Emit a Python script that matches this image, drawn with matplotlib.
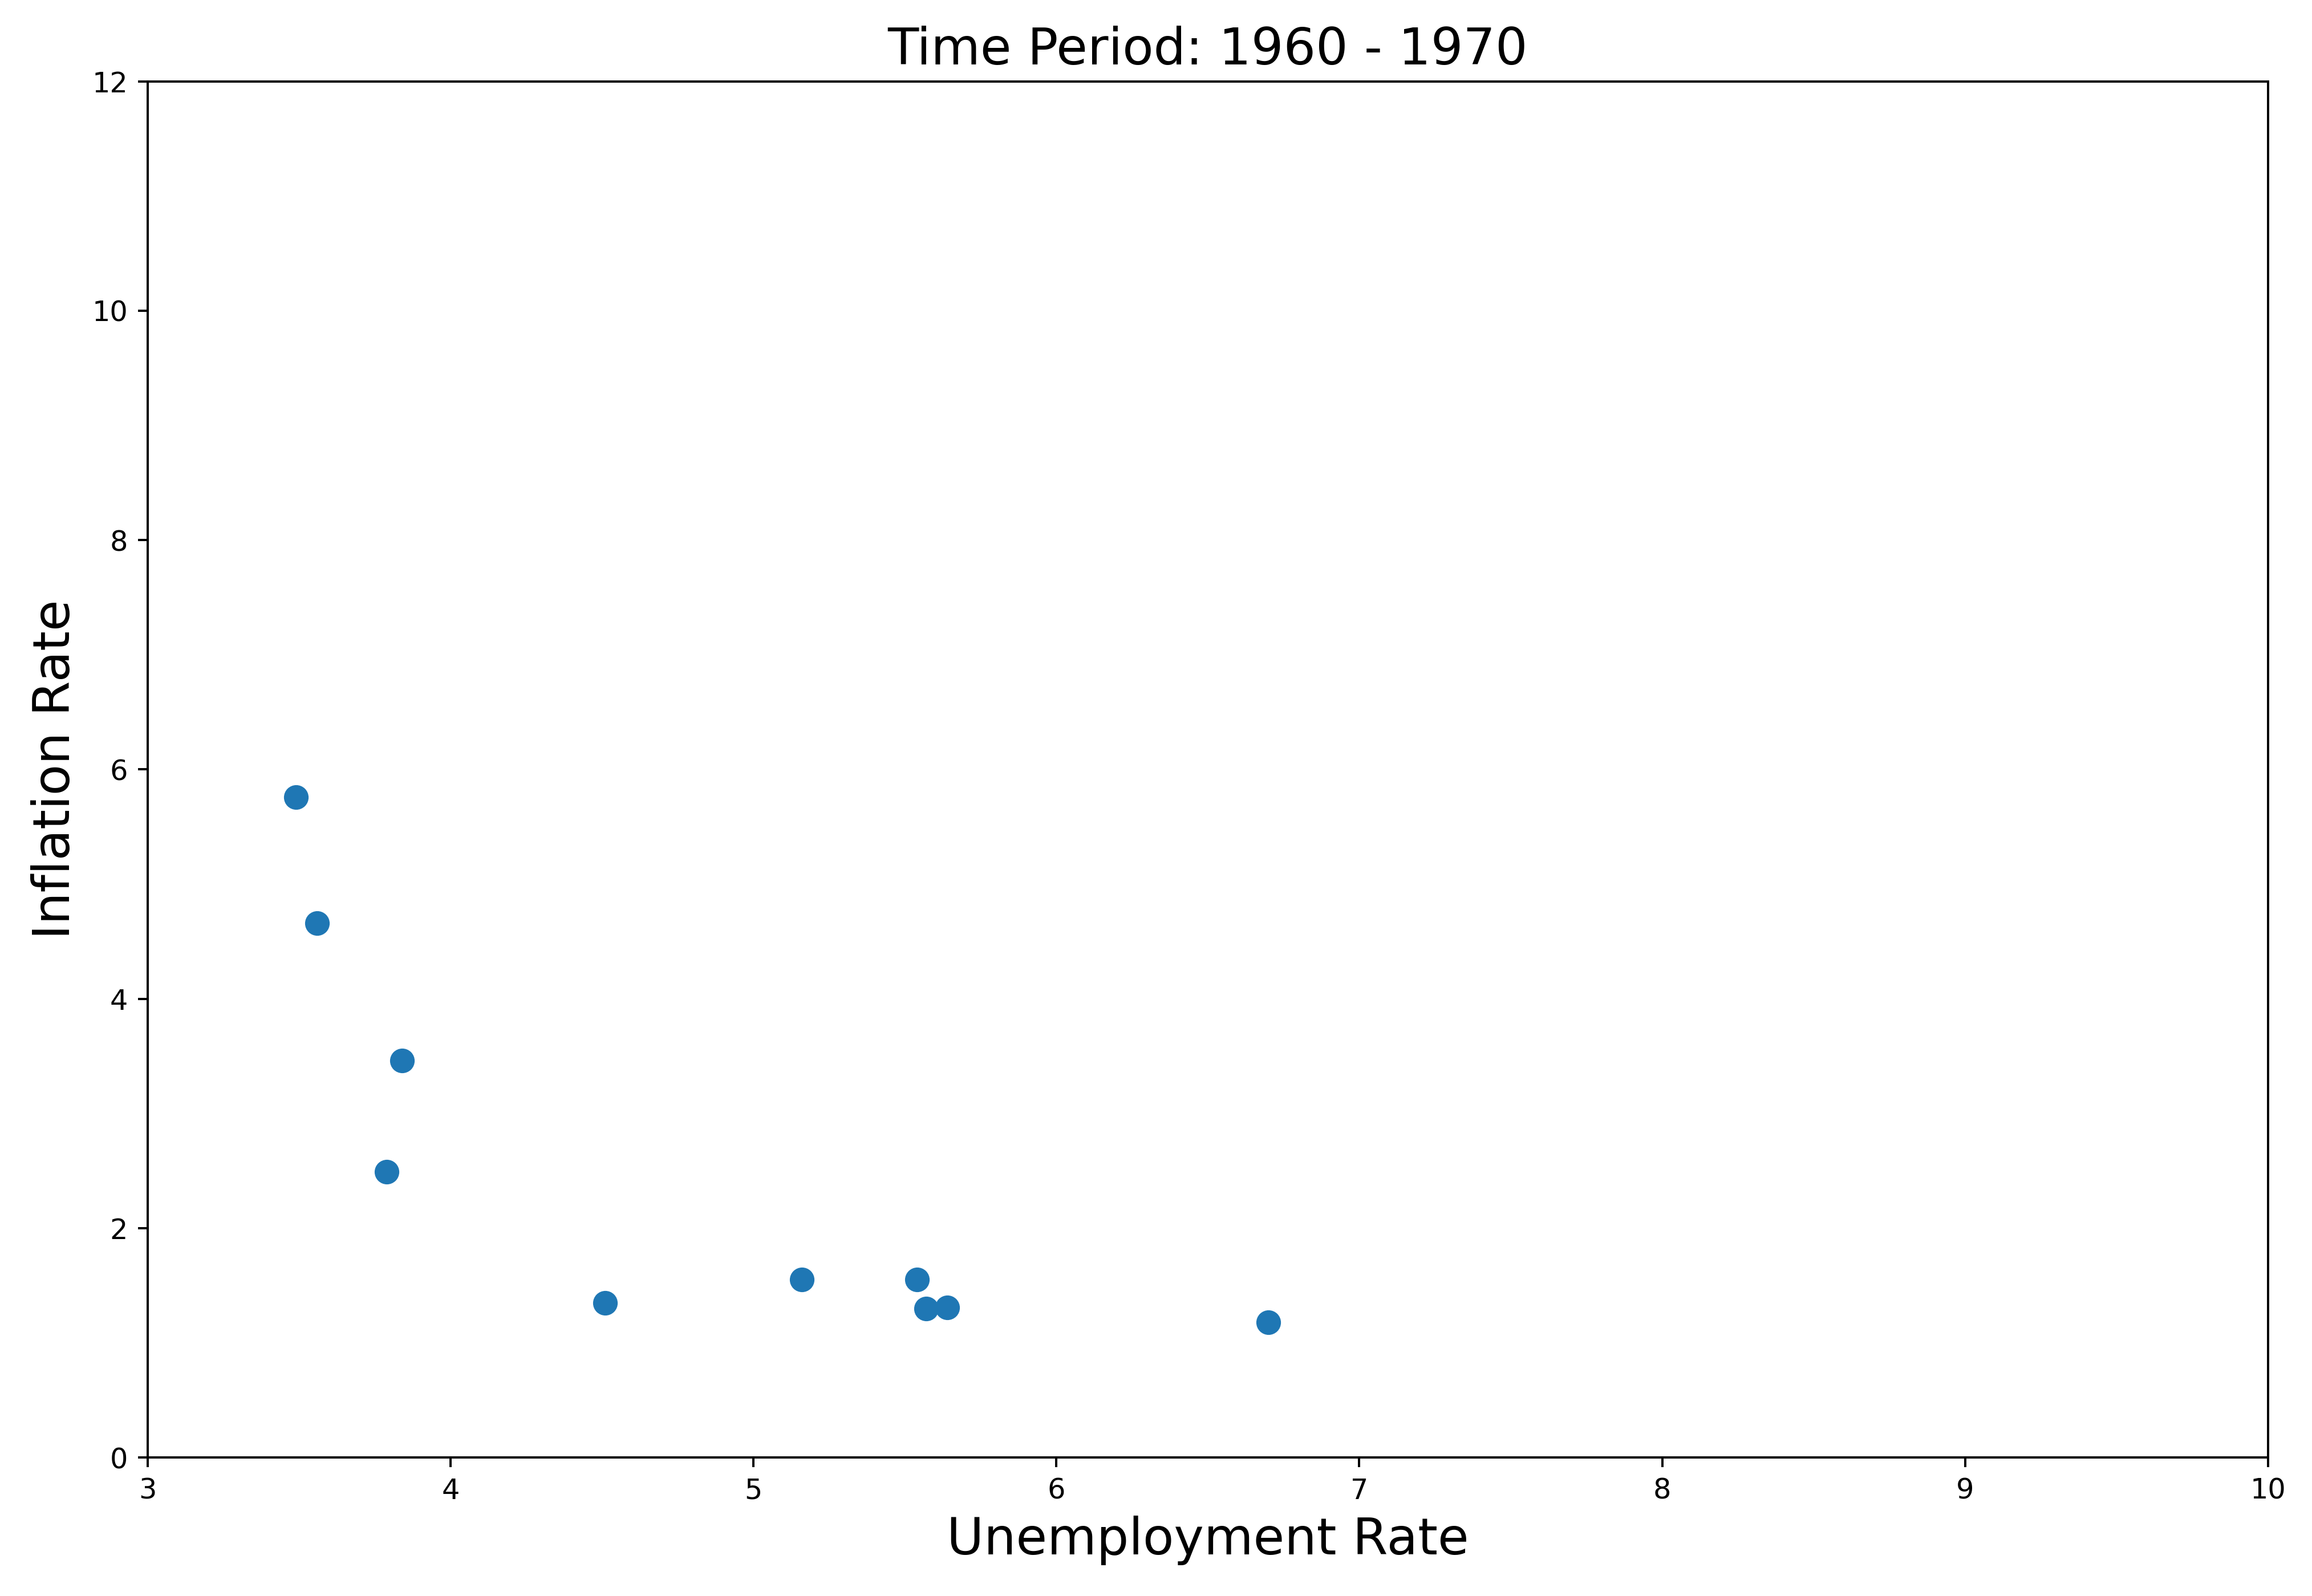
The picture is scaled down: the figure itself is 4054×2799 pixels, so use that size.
import matplotlib
matplotlib.use("Agg")
import matplotlib.pyplot as plt

# データ (読み取り値)
unemployment = [3.49, 3.56, 3.84, 3.79, 4.51, 5.16, 5.54, 5.57, 5.64, 6.70]
inflation = [5.76, 4.66, 3.46, 2.49, 1.35, 1.55, 1.55, 1.30, 1.31, 1.18]

DPI = 355.5
fig = plt.figure(figsize=(4054 / DPI, 2799 / DPI), dpi=DPI)
ax = fig.add_axes([0.0638, 0.0868, 0.9172, 0.8622])

ax.scatter(unemployment, inflation, s=60, color="#1f77b4")

ax.set_xlim(3, 10)
ax.set_ylim(0, 12)

ax.set_title("Time Period: 1960 - 1970", fontsize=18)
ax.set_xlabel("Unemployment Rate", fontsize=18)
ax.set_ylabel("Inflation Rate", fontsize=18)

fig.savefig("out.png", dpi=DPI)
